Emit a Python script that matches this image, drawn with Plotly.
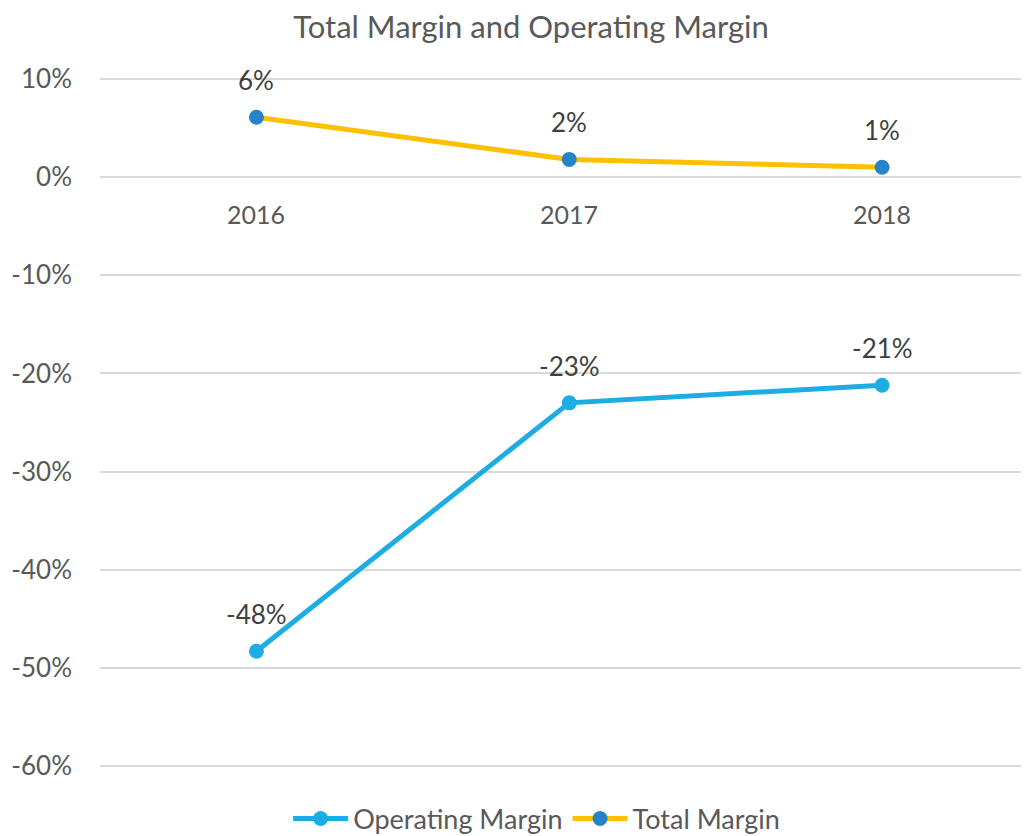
import plotly.graph_objects as go

years = ["2016", "2017", "2018"]
operating_margin = [-0.483, -0.230, -0.212]
total_margin = [0.061, 0.018, 0.010]
op_labels = ["-48%", "-23%", "-21%"]
tot_labels = ["6%", "2%", "1%"]
y_ticks = [0.1, 0.0, -0.1, -0.2, -0.3, -0.4, -0.5, -0.6]
y_tick_text = ["10%", "0%", "-10%", "-20%", "-30%", "-40%", "-50%", "-60%"]

FONT = "Lato, 'Open Sans', sans-serif"
xs = list(range(len(years)))

W, H = 1021, 828  # page body has an 8px margin

fig = go.Figure()
fig.add_trace(go.Scatter(
    x=xs, y=operating_margin, name="Operating Margin", mode="lines+markers",
    line=dict(color="#1CADE4", width=5),
    marker=dict(color="#1CADE4", size=15),
))
fig.add_trace(go.Scatter(
    x=xs, y=total_margin, name="Total Margin", mode="lines+markers",
    line=dict(color="#FFC000", width=5),
    marker=dict(color="#2683C6", size=15),
))

annotations = []
for xi, yv, t in zip(xs, operating_margin, op_labels):
    annotations.append(dict(x=xi, y=yv, xref="x", yref="y", text=t, showarrow=False,
                            yshift=37, font=dict(family=FONT, size=26, color="#404040")))
for xi, yv, t in zip(xs, total_margin, tot_labels):
    annotations.append(dict(x=xi, y=yv, xref="x", yref="y", text=t, showarrow=False,
                            yshift=37, font=dict(family=FONT, size=26, color="#404040")))
for xi, t in zip(xs, years):
    annotations.append(dict(x=xi, y=0, xref="x", yref="y", text=t, showarrow=False,
                            yshift=-37, font=dict(family=FONT, size=25, color="#595959")))

fig.update_layout(
    width=W, height=H,
    margin=dict(l=91.5, r=0, t=66, b=65),
    paper_bgcolor="white", plot_bgcolor="white",
    title=dict(text="Total Margin and Operating Margin", x=523 / W, xanchor="center",
               y=1 - 19 / H, yanchor="middle",
               font=dict(family=FONT, size=31, color="#595959")),
    xaxis=dict(range=[-0.5, 2.4696], showgrid=False, zeroline=False,
               showticklabels=False, showline=False, fixedrange=True),
    yaxis=dict(range=[-0.605, 0.105], tickvals=y_ticks, ticktext=y_tick_text,
               showgrid=True, gridcolor="#D9D9D9", gridwidth=1.8,
               zeroline=False, showline=False, ticklabelstandoff=27,
               tickfont=dict(family=FONT, size=26, color="#595959")),
    showlegend=True,
    legend=dict(orientation="h", x=0.47, xanchor="center",
                yref="container", y=1 - 811 / H, yanchor="middle",
                font=dict(family=FONT, size=27, color="#595959"),
                itemwidth=55, traceorder="normal"),
    annotations=annotations,
)

fig.write_html("out.html")
